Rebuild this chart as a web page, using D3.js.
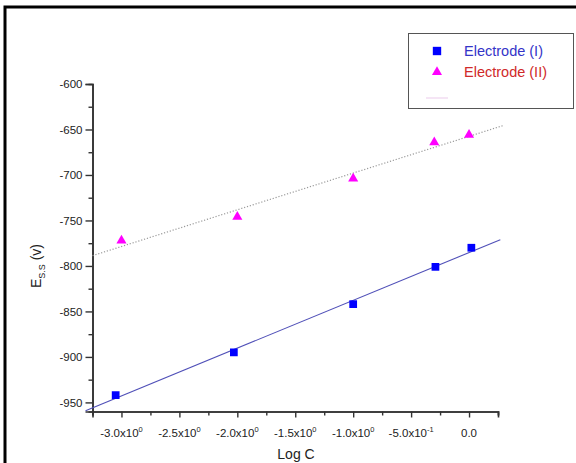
<!DOCTYPE html>
<html>
<head>
<meta charset="utf-8">
<script src="https://cdn.jsdelivr.net/npm/d3@7"></script>
<style>
  html, body { margin: 0; padding: 0; background: #fff; }
  svg { display: block; font-family: "Liberation Sans", Arial, sans-serif; }
</style>
</head>
<body>
<svg id="chart" width="576" height="463"></svg>
<script>
// Steady-state potential vs. log concentration for two electrodes
const logC1 = [-3.05, -2.03, -1.0, -0.29, 0.02];
const ess1  = [-942, -895, -842, -801, -780];
const logC2 = [-3.0, -2.0, -1.0, -0.3, 0.0];
const ess2  = [-772, -746, -704, -664, -656];

// extent over which each regression line is drawn (Log C units)
const fitSpan1 = [-3.31, 0.27];
const fitSpan2 = [-3.25, 0.29];

const xMajor = [-3.0, -2.5, -2.0, -1.5, -1.0, -0.5, 0.0];
const xMinor = [-3.25, -2.75, -2.25, -1.75, -1.25, -0.75, -0.25, 0.25];
const xTickMantissa = ["-3.0x10", "-2.5x10", "-2.0x10", "-1.5x10", "-1.0x10", "-5.0x10", "0.0"];
const xTickExponent = ["0", "0", "0", "0", "0", "-1", ""];
const yMajor = [-600, -650, -700, -750, -800, -850, -900, -950];
const yMinor = [-625, -675, -725, -775, -825, -875, -925];

const seriesNames = ["Electrode (I)", "Electrode (II)"];

const svg = d3.select("#chart");

// outer frame
svg.append("rect")
  .attr("x", 5).attr("y", 7)
  .attr("width", 620).attr("height", 520)
  .attr("fill", "none").attr("stroke", "#000").attr("stroke-width", 3);

const x = d3.scaleLinear().domain([-3.25, 0.25]).range([92.5, 498]);
const y = d3.scaleLinear().domain([-960, -600]).range([411.5, 84]);

const axisColor = "#333";

// x axis: minor ticks, then major ticks
const gxMinor = svg.append("g").attr("transform", `translate(0,${y(-960)})`)
  .call(d3.axisBottom(x).tickValues(xMinor).tickSize(4).tickFormat(""));
const gx = svg.append("g").attr("transform", `translate(0,${y(-960)})`)
  .call(d3.axisBottom(x).tickValues(xMajor).tickSize(6).tickFormat(""));

// y axis
const gyMinor = svg.append("g").attr("transform", `translate(${x(-3.25)},0)`)
  .call(d3.axisLeft(y).tickValues(yMinor).tickSize(4).tickFormat(""));
const gy = svg.append("g").attr("transform", `translate(${x(-3.25)},0)`)
  .call(d3.axisLeft(y).tickValues(yMajor).tickSize(7).tickFormat(d => String(d)));

[gxMinor, gx, gyMinor, gy].forEach(g => {
  g.select(".domain").attr("stroke", axisColor).attr("stroke-width", 1.6);
  g.selectAll(".tick line").attr("stroke", axisColor).attr("stroke-width", 1.4);
});
gy.selectAll(".tick text")
  .attr("fill", "#222").attr("font-size", 11.5)
  .attr("font-family", "Liberation Sans, Arial, sans-serif")
  .attr("x", -10);

// x tick labels with superscript exponents
const xl = svg.append("g");
xMajor.forEach((v, i) => {
  const t = xl.append("text")
    .attr("x", x(v)).attr("y", 437)
    .attr("text-anchor", "middle")
    .attr("fill", "#222").attr("font-size", 11.5);
  t.append("tspan").text(xTickMantissa[i]);
  if (xTickExponent[i]) {
    t.append("tspan").attr("dy", -5).attr("font-size", 7.5).text(xTickExponent[i]);
  }
});

// axis titles
svg.append("text")
  .attr("x", 296).attr("y", 459)
  .attr("text-anchor", "middle")
  .attr("fill", "#222").attr("font-size", 14)
  .text("Log C");

const yt = svg.append("text")
  .attr("transform", "translate(41,266) rotate(-90)")
  .attr("text-anchor", "middle")
  .attr("fill", "#222").attr("font-size", 14);
yt.append("tspan").text("E");
yt.append("tspan").attr("dy", 4).attr("font-size", 9).text("S.S");
yt.append("tspan").attr("dy", -4).text(" (v)");

// least-squares fit
function fit(xs, ys) {
  const n = xs.length;
  const mx = d3.mean(xs), my = d3.mean(ys);
  let sxy = 0, sxx = 0;
  for (let i = 0; i < n; i++) {
    sxy += (xs[i] - mx) * (ys[i] - my);
    sxx += (xs[i] - mx) * (xs[i] - mx);
  }
  const b = sxy / sxx;
  return { slope: b, intercept: my - b * mx };
}
const f1 = fit(logC1, ess1);
const f2 = fit(logC2, ess2);

const line = d3.line().x(d => x(d[0])).y(d => y(d[1]));

svg.append("path")
  .datum(fitSpan2.map(v => [v, f2.intercept + f2.slope * v]))
  .attr("d", line)
  .attr("fill", "none").attr("stroke", "#9a9a9a")
  .attr("stroke-width", 1.2).attr("stroke-dasharray", "1.2,1.8");

svg.append("path")
  .datum(fitSpan1.map(v => [v, f1.intercept + f1.slope * v]))
  .attr("d", line)
  .attr("fill", "none").attr("stroke", "#5050b8")
  .attr("stroke-width", 1.1);

// markers
const square = d3.symbol().type(d3.symbolSquare).size(60);
const tri = d3.symbol().type(d3.symbolTriangle).size(44);

svg.append("g").selectAll("path")
  .data(logC1.map((v, i) => [v, ess1[i]]))
  .join("path")
  .attr("d", square)
  .attr("transform", d => `translate(${x(d[0])},${y(d[1])})`)
  .attr("fill", "#0000ff");

svg.append("g").selectAll("path")
  .data(logC2.map((v, i) => [v, ess2[i]]))
  .join("path")
  .attr("d", tri)
  .attr("transform", d => `translate(${x(d[0])},${y(d[1])})`)
  .attr("fill", "#ff00ff");

// legend
const lg = svg.append("g");
lg.append("rect")
  .attr("x", 408.5).attr("y", 33.5)
  .attr("width", 165).attr("height", 75)
  .attr("fill", "#fff").attr("stroke", "#555").attr("stroke-width", 1);
lg.append("path").attr("d", d3.symbol().type(d3.symbolSquare).size(70))
  .attr("transform", "translate(437,51)").attr("fill", "#0000ff");
lg.append("path").attr("d", tri)
  .attr("transform", "translate(437,72)").attr("fill", "#ff00ff");
lg.append("line")
  .attr("x1", 426).attr("x2", 448).attr("y1", 98).attr("y2", 98)
  .attr("stroke", "#f2dcf2").attr("stroke-width", 1.5);
lg.append("text")
  .attr("x", 464).attr("y", 56)
  .attr("fill", "#3434c8").attr("font-size", 14.5)
  .text(seriesNames[0]);
lg.append("text")
  .attr("x", 464).attr("y", 77)
  .attr("fill", "#d02a2a").attr("font-size", 14.5)
  .text(seriesNames[1]);
</script>
</body>
</html>
